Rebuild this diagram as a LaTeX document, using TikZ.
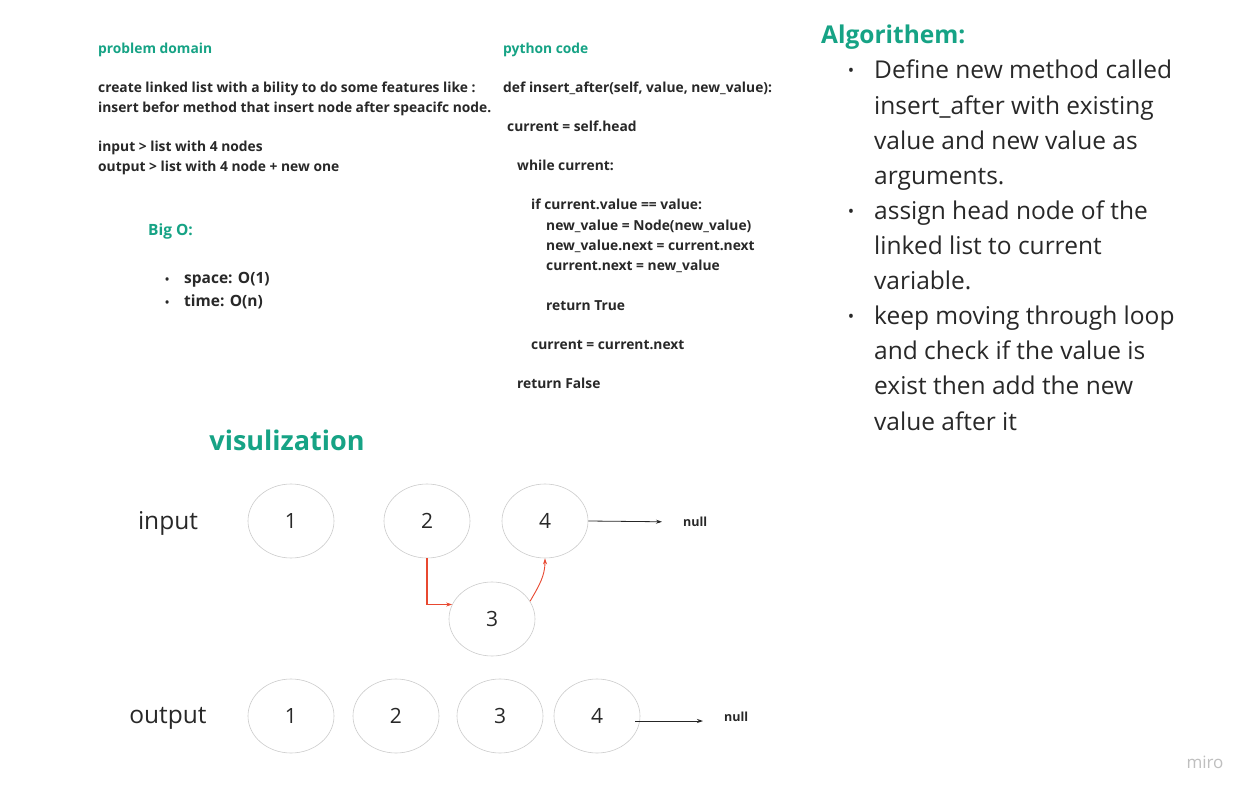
\documentclass[tikz,border=0pt]{standalone}
\usepackage{fontspec}
\setmainfont{Open Sans}
\usetikzlibrary{shapes.geometric,arrows.meta}
\definecolor{grn}{RGB}{22,163,133}
\definecolor{txt}{RGB}{40,40,40}
\definecolor{redarr}{RGB}{232,72,48}
\tikzset{
  small/.style={anchor=base west,inner sep=0,font=\fontsize{13.8}{16}\selectfont\bfseries,text=txt},
  head/.style={anchor=base west,inner sep=0,font=\fontsize{13.8}{16}\selectfont\bfseries,text=grn},
  alg/.style={anchor=base west,inner sep=0,font=\fontsize{24.5}{29}\selectfont,text=txt},
  lnode/.style={ellipse,draw=black!20,line width=0.6pt,minimum width=86pt,minimum height=74pt,inner sep=0,font=\fontsize{21}{25}\selectfont,text=txt},
  lab/.style={inner sep=0,font=\fontsize{24.5}{29}\selectfont,text=txt},
  nul/.style={inner sep=0,anchor=west,font=\fontsize{12.5}{15}\selectfont\bfseries,text=txt},
  arr/.style={-{Stealth[length=6pt,width=4pt]},line width=0.8pt,black!85},
  rarr/.style={-{Stealth[length=6pt,width=4pt]},line width=1.2pt,redarr},
}
\begin{document}
\begin{tikzpicture}[x=1pt,y=-1pt]
\useasboundingbox[fill=white] (0,0) rectangle (1254,797);
% problem domain
\node[head] (pd) at (98,54) {problem domain};
\node[small] (pd1) at (98,93) {create linked list with a bility to do some features like :};
\node[small] (pd2) at (98,113) {insert befor method that insert node after speacifc node.};
\node[small] (pd3) at (98,152) {input > list with 4 nodes};
\node[small] (pd4) at (98,172) {output > list with 4 node + new one};
% Big O
\node[head,font=\fontsize{15.5}{18}\selectfont\bfseries] (bo) at (148,236) {Big O:};
\node[small,font=\fontsize{15.5}{18}\selectfont\bfseries] (bo1) at (165,283) {\makebox[19pt][l]{\fontsize{11}{13}\selectfont•}space: O(1)};
\node[small,font=\fontsize{15.5}{18}\selectfont\bfseries] (bo2) at (165,306) {\makebox[19pt][l]{\fontsize{11}{13}\selectfont•}time: O(n)};
% python code
\node[head] (pc) at (503,54) {python code};
\node[small] (c1) at (503,93) {def insert\_after(self, value, new\_value):};
\node[small] (c2) at (507,132) {current = self.head};
\node[small] (c3) at (517,171) {while current:};
\node[small] (c4) at (531,210) {if current.value == value:};
\node[small] (c5) at (546,230) {new\_value = Node(new\_value)};
\node[small] (c6) at (546,250) {new\_value.next = current.next};
\node[small] (c7) at (546,270) {current.next = new\_value};
\node[small] (c8) at (546,310) {return True};
\node[small] (c9) at (531,349) {current = current.next};
\node[small] (c10) at (517,388) {return False};
% Algorithem
\node[head,font=\fontsize{24.5}{29}\selectfont\bfseries] (al) at (821,44) {Algorithem:};
\foreach \t [count=\i] in {Define new method called,insert\_after with existing,value and new value as,arguments.,assign head node of the,linked list to current,variable.,keep moving through loop,and check if the value is,exist then add the new,value after it}{
  \node[alg] (a\i) at (874,{79+(\i-1)*35.1}) {\t};
}
\foreach \i in {1,5,8}{
  \node[alg,anchor=base,font=\fontsize{17}{20}\selectfont] (b\i) at (851,{77+(\i-1)*35.1}) {•};
}
% visualization
\node[inner sep=0,font=\fontsize{27}{32}\selectfont\bfseries,text=grn] (vis) at (287,440) {visulization};
\node[lab] (lin) at (168,523) {input};
\node[lab] (lout) at (168,718) {output};
\node[lnode] (i1) at (291,521) {1};
\node[lnode] (i2) at (427,521) {2};
\node[lnode] (i4) at (545,521) {4};
\node[lnode] (i3) at (492,619) {3};
\node[lnode] (o1) at (291,716) {1};
\node[lnode] (o2) at (396,716) {2};
\node[lnode] (o3) at (500,716) {3};
\node[lnode] (o4) at (597,716) {4};
\node[nul] (n1) at (683,522) {null};
\node[nul] (n2) at (724,717) {null};
\draw[arr,shorten >=21pt] (i4.east) -- (n1.west);
\draw[arr,shorten >=21pt] ([xshift=-5pt,yshift=-5pt]o4.east) -- ([yshift=-4pt]n2.west);
\draw[rarr] (i2.south) |- (i3.160);
\draw[rarr,line width=0.9pt] (i3.25) to[out=60,in=-90] (i4.south);
% miro
\node[inner sep=0,font=\fontsize{17}{20}\selectfont,text=black!25] (miro) at (1205,762) {miro};
\end{tikzpicture}
\end{document}
